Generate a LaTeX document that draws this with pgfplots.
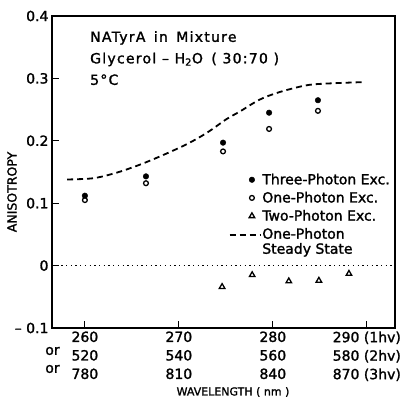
\documentclass[border=0pt]{standalone}
\usepackage{fontspec}
\setmainfont{DejaVu Sans}[FakeBold=1.5]
\usepackage{pgfplots}
\pgfplotsset{compat=1.18}
\newfontfamily\titlefont{DejaVu Sans}[LetterSpace=9, FakeBold=1.5]
\pgfplotsset{
  markleg/.style={legend image code/.code={\path (0,0) (1.06cm,0); \draw[##1] plot coordinates {(0.78cm,0cm)};}},
  lineleg/.style={legend image code/.code={\draw[##1] (0cm,7pt) -- (1.06cm,7pt);}},
}
\begin{document}
\begin{tikzpicture}
\begin{axis}[
  scale only axis, width=343pt, height=312pt,
  xmin=256.5, xmax=293, ymin=-0.1, ymax=0.4,
  axis line style={line width=1.4pt},
  tick style={line width=1.2pt, black},
  tick align=inside, major tick length=7pt,
  xtick={260,270,280,290}, ytick={-0.1,0,0.1,0.2,0.3,0.4},
  xtick pos=bottom, ytick pos=left,
  /pgf/number format/assume math mode=true,
  yticklabels={{-- 0.1},0,0.1,0.2,0.3,0.4},
  xticklabels={{260\\520\\780},{270\\540\\810},{280\\560\\840},{290 (1hv)\\580 (2hv)\\870 (3hv)}},
  xticklabel style={align=center, font=\fontsize{14}{18.5}\selectfont},
  yticklabel style={font=\fontsize{14}{16}\selectfont},
  legend style={at={(rel axis cs:0.515,0.50)}, anchor=north west, draw=none, fill=none,
    inner sep=0pt, row sep=3pt,
    nodes={inner sep=1.5pt, align=left, font=\fontsize{14}{15}\selectfont}},
  legend cell align=left,
]
\addplot[only marks, mark=*, mark size=2.8pt, black, markleg]
  coordinates {(260,0.112)(266.5,0.143)(274.7,0.197)(279.6,0.245)(284.8,0.265)};
\addlegendentry{Three-Photon Exc.}
\addplot[only marks, mark=o, mark size=2.4pt, line width=1.3pt, black, markleg]
  coordinates {(260,0.105)(266.5,0.132)(274.7,0.183)(279.6,0.219)(284.8,0.248)};
\addlegendentry{One-Photon Exc.}
\addplot[only marks, mark=triangle, mark size=3.2pt, line width=1.3pt, black, markleg]
  coordinates {(274.6,-0.034)(277.8,-0.015)(281.7,-0.025)(284.9,-0.024)(288.1,-0.013)};
\addlegendentry{Two-Photon Exc.}
\addplot[smooth, black, line width=1.8pt, dash pattern=on 6pt off 4pt, lineleg]
  coordinates {(258.1,0.138)(260.9,0.140)(263.4,0.149)(265.9,0.162)(268.3,0.177)(270.9,0.195)
  (273.0,0.213)(275.1,0.235)(276.5,0.247)(278.6,0.266)(280.7,0.278)(283.6,0.289)(286.1,0.292)(289.6,0.294)};
\addlegendentry{One-Photon\\Steady State}
\addplot[black, line width=1.3pt, dash pattern=on 1.3pt off 3.4pt, forget plot]
  coordinates {(256.5,0)(293,0)};
\coordinate (bl) at (rel axis cs:0,0);
\coordinate (tr) at (rel axis cs:1,1);
\end{axis}
\node[anchor=north west, align=left, font=\titlefont\fontsize{14}{21.5}\selectfont, inner sep=0pt]
  at ([xshift=38pt,yshift=-15pt]bl|-tr) {NATyrA\hspace{0.6em}in\hspace{0.6em}Mixture\\Glycerol \textendash{} H\textsubscript{2}O\hspace{0.6em}( 30:70 )\\5°C};
\node[font=\fontsize{14}{16}\selectfont] at ([xshift=0.5pt,yshift=-23pt]bl) {or};
\node[font=\fontsize{14}{16}\selectfont] at ([xshift=0.5pt,yshift=-41pt]bl) {or};
\node[font=\fontsize{11}{12}\selectfont] at ([xshift=181pt,yshift=-64pt]bl) {WAVELENGTH ( nm )};
\node[rotate=90, font=\fontsize{12.5}{14}\selectfont] at ([xshift=-40pt,yshift=136pt]bl) {ANISOTROPY};
\pgfresetboundingbox
\path ([xshift=-52pt,yshift=-74pt]bl) rectangle ([xshift=17pt,yshift=16pt]tr);
\end{tikzpicture}
\end{document}
